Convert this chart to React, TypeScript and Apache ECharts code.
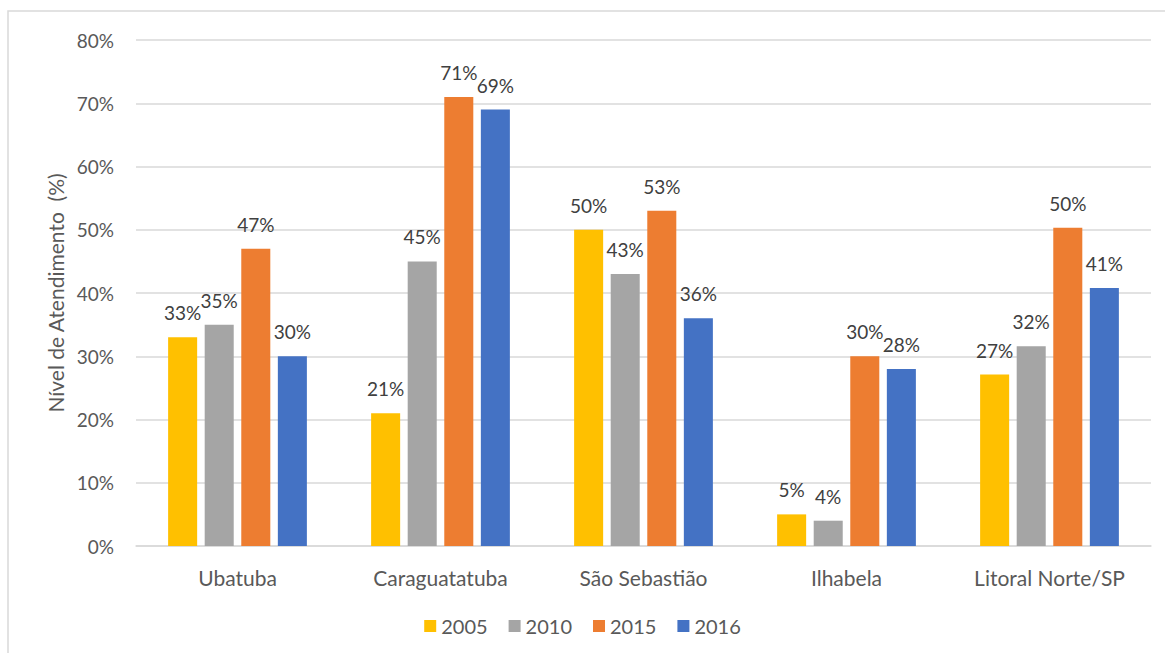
import React, { useEffect, useRef } from "react";
import * as echarts from "echarts";

const categories = ["Ubatuba", "Caraguatatuba", "São Sebastião", "Ilhabela", "Litoral Norte/SP"];
const seriesNames = ["2005", "2010", "2015", "2016"];
const s2005 = [33, 21, 50, 5, 27.1];
const s2010 = [35, 45, 43, 4, 31.6];
const s2015 = [47, 71, 53, 30, 50.3];
const s2016 = [30, 69, 36, 28, 40.8];
const colors = ["#FFC000", "#A5A5A5", "#ED7D31", "#4472C4"];
const yTicks = [0, 10, 20, 30, 40, 50, 60, 70, 80];

const FONT = "Lato, 'Open Sans', sans-serif";

export default function App() {
  const ref = useRef<HTMLDivElement>(null);
  useEffect(() => {
    if (!ref.current) return;
    const chart = echarts.init(ref.current, null, { renderer: "svg" });
    const data = [s2005, s2010, s2015, s2016];
    chart.setOption({
      animation: false,
      backgroundColor: "#ffffff",
      textStyle: { fontFamily: FONT },
      graphic: [
        {
          type: "rect",
          shape: { x: 8, y: 11, width: 1200, height: 700 },
          style: { fill: "none", stroke: "#d9d9d9", lineWidth: 1.5 },
          silent: true,
          z: -1,
        },
      ],
      grid: { left: 136, right: 14, top: 40, bottom: 107 },
      legend: {
        data: seriesNames,
        bottom: 12,
        left: "center",
        icon: "rect",
        itemWidth: 12,
        itemHeight: 12,
        itemGap: 21,
        textStyle: { color: "#595959", fontSize: 20, fontFamily: FONT },
      },
      xAxis: {
        type: "category",
        data: categories,
        axisLine: { lineStyle: { color: "#d9d9d9", width: 1.5 } },
        axisTick: { show: false },
        axisLabel: { color: "#595959", fontSize: 21, margin: 21, fontFamily: FONT },
      },
      yAxis: {
        type: "value",
        min: yTicks[0],
        max: yTicks[yTicks.length - 1],
        interval: 10,
        name: "Nível de Atendimento  (%)",
        nameLocation: "middle",
        nameGap: 68,
        nameTextStyle: { color: "#595959", fontSize: 21, fontFamily: FONT },
        axisLine: { show: false },
        axisTick: { show: false },
        splitLine: { lineStyle: { color: "#d9d9d9", width: 1.5 } },
        axisLabel: {
          color: "#595959",
          fontSize: 19,
          margin: 22,
          fontFamily: FONT,
          formatter: (v: number) => v + "%",
        },
      },
      series: seriesNames.map((name, i) => ({
        name,
        type: "bar",
        data: data[i],
        barWidth: "14.3%",
        barGap: "26%",
        itemStyle: { color: colors[i] },
        label: {
          show: true,
          position: "top",
          distance: 15,
          color: "#404040",
          fontSize: 19,
          fontFamily: FONT,
          formatter: (p: any) => Math.round(p.value) + "%",
        },
      })),
    });
    return () => chart.dispose();
  }, []);
  return (
    <div
      ref={ref}
      style={{ position: "fixed", left: 0, top: 0, width: 1165, height: 653 }}
    />
  );
}
